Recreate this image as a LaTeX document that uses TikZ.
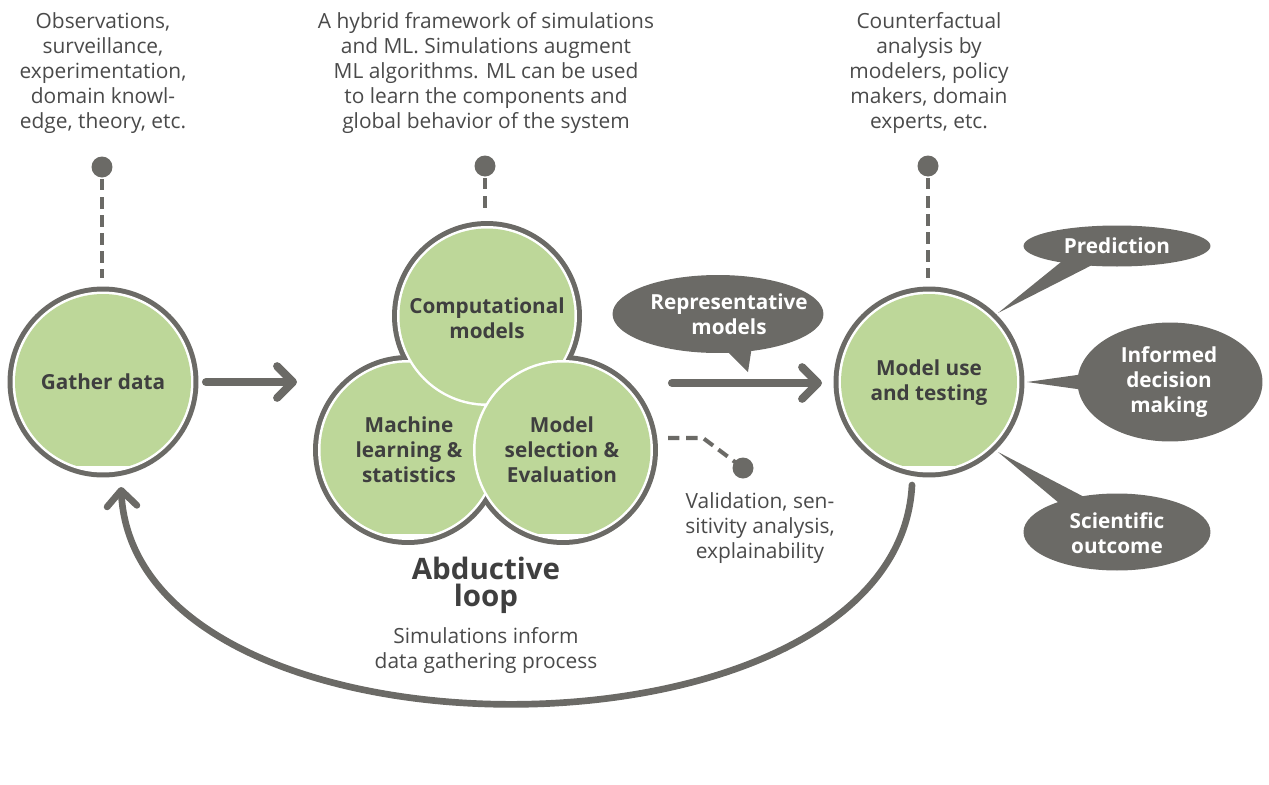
\documentclass[tikz,border=0pt]{standalone}
\usepackage{fontspec}
\setmainfont{Open Sans}
\usetikzlibrary{arrows.meta,calc}
\definecolor{ringgray}{HTML}{6B6A66}
\definecolor{leaf}{HTML}{BDD799}
\definecolor{txtdark}{HTML}{3F3F3F}
\definecolor{txtgray}{HTML}{4A4A4A}
\tikzset{
  note/.style={align=center, text=txtgray, font=\fontsize{11.9}{14.2}\selectfont, inner sep=0pt},
  lbl/.style={align=center, text=txtdark, font=\bfseries\fontsize{11.8}{14.2}\selectfont, inner sep=0pt},
  bubbletext/.style={align=center, text=white, font=\bfseries\fontsize{11.8}{14.2}\selectfont, inner sep=0pt},
  bigtitle/.style={align=center, text=txtdark, font=\bfseries\fontsize{16.8}{15.4}\selectfont, inner sep=0pt},
  dashline/.style={ringgray, line width=2.3pt, dash pattern=on 6.5pt off 3.8pt},
  bigarrow/.style={ringgray, line width=4.6pt, line cap=round, -{Straight Barb[length=9pt,width=18pt,round]}},
  looparrow/.style={ringgray, line width=3.8pt, line cap=round, -{Straight Barb[length=9pt,width=17pt,round]}},
  dotnode/.style={circle, fill=ringgray, minimum size=0.42cm, inner sep=0pt},
  bubble/.style={fill=ringgray},
}
\begin{document}
\begin{tikzpicture}[x=0.02cm,y=-0.02cm]
\useasboundingbox (0,0) rectangle (1269,785);

% ---- gray outer disks
\fill[ringgray] (103,382) circle[radius=1.91cm];
\fill[ringgray] (929,382) circle[radius=1.91cm];
\fill[ringgray] (408,450) circle[radius=1.9cm];
\fill[ringgray] (487,316) circle[radius=1.9cm];
\fill[ringgray] (563,450) circle[radius=1.9cm];

% ---- white rings and green fills
\fill[white] (103,382) circle[radius=1.81cm];
\begin{scope}\clip (0,280) rectangle (210,465);
\fill[leaf] (103,382) circle[radius=1.76cm];\end{scope}
\fill[white] (929,382) circle[radius=1.81cm];
\begin{scope}\clip (820,280) rectangle (1040,465);
\fill[leaf] (929,382) circle[radius=1.76cm];\end{scope}
\fill[white] (408,450) circle[radius=1.8cm];
\begin{scope}\clip (300,340) rectangle (520,533);
\fill[leaf] (408,450) circle[radius=1.75cm];\end{scope}
\fill[white] (487,316) circle[radius=1.8cm];
\fill[leaf] (487,316) circle[radius=1.75cm];
\fill[white] (563,450) circle[radius=1.8cm];
\begin{scope}\clip (450,340) rectangle (680,533);
\fill[leaf] (563,450) circle[radius=1.75cm];\end{scope}

% ---- labels in circles
\node[lbl] (gather) at (103,382) {Gather data};
\node[lbl] (comp) at (487,318) {Computational\\models};
\node[lbl] (mlstat) at (409,450) {Machine\\learning \&\\statistics};
\node[lbl] (modsel) at (562,450) {Model\\selection \&\\Evaluation};
\node[lbl] (use) at (929,383) {Model use\\and testing};

% ---- top notes and dotted pointers
\node[note] (n1) at (103,73) {Observations,\\surveillance,\\experimentation,\\domain knowl-\\edge, theory, etc.};
\node[note] (n2) at (486,73) {A hybrid framework of simulations\\and ML. Simulations augment\\ML algorithms. ML can be used\\to learn the components and\\global behavior of the system};
\node[note] (n3) at (929,73) {Counterfactual\\analysis by\\modelers, policy\\makers, domain\\experts, etc.};

\node[dotnode] (d1) at (102,167) {};
\node[dotnode] (d2) at (485,166) {};
\node[dotnode] (d3) at (928,166) {};
\node[dotnode] (d4) at (743,468) {};
\coordinate (d1e) at (102,278);
\coordinate (d2e) at (485,208);
\coordinate (d3e) at (928,278);
\draw[dashline] (d1.center) ++(0,12) -- (d1e);
\draw[dashline] (d2.center) ++(0,12) -- (d2e);
\draw[dashline] (d3.center) ++(0,12) -- (d3e);
\coordinate (vs) at (668,438);
\coordinate (vm) at (703,438);
\draw[dashline] (vs) -- (vm) -- (d4.center);

% ---- main arrows
\coordinate (gaE) at (206,382);
\coordinate (abW) at (297,382);
\draw[bigarrow] (gaE) -- (abW);
\coordinate (abE) at (672,383);
\coordinate (useW) at (822,383);
\draw[bigarrow] (abE) -- (useW);

% ---- loop
\coordinate (ls) at (912,485);
\coordinate (le) at (121,487);
\draw[looparrow] (ls) .. controls ($(ls)+(-15,290)$) and ($(le)+(15,290)$) .. (le);

% ---- bubbles
\fill[bubble] (718,314) ellipse[x radius=2.11cm, y radius=0.78cm];
\fill[bubble] (722,346) -- (752,346) -- (748,372) -- cycle;
\node[bubbletext] (repr) at (729,314) {Representative\\models};

\fill[bubble] (1117,246) ellipse[x radius=1.87cm, y radius=0.41cm];
\fill[bubble] (1066,258) -- (1098,262) -- (998,313) -- cycle;
\node[bubbletext] (pred) at (1117,246) {Prediction};

\fill[bubble] (1170,382) ellipse[x radius=1.85cm, y radius=1.19cm];
\fill[bubble] (1095,372.5) -- (1095,391.5) -- (1027,382) -- cycle;
\node[bubbletext] (inf) at (1169,382) {Informed\\decision\\making};

\fill[bubble] (1117,532) ellipse[x radius=1.87cm, y radius=0.77cm];
\fill[bubble] (1065,508) -- (1090,500) -- (998,452) -- cycle;
\node[bubbletext] (sci) at (1117,533) {Scientific\\outcome};

% ---- other texts
\node[note] (valid) at (760,528) {Validation, sen-\\sitivity analysis,\\explainability};
\node[bigtitle] (abd) at (486,585) {Abductive\\loop};
\node[note] (siminf) at (486,650.5) {Simulations inform\\data gathering process};
\end{tikzpicture}
\end{document}
